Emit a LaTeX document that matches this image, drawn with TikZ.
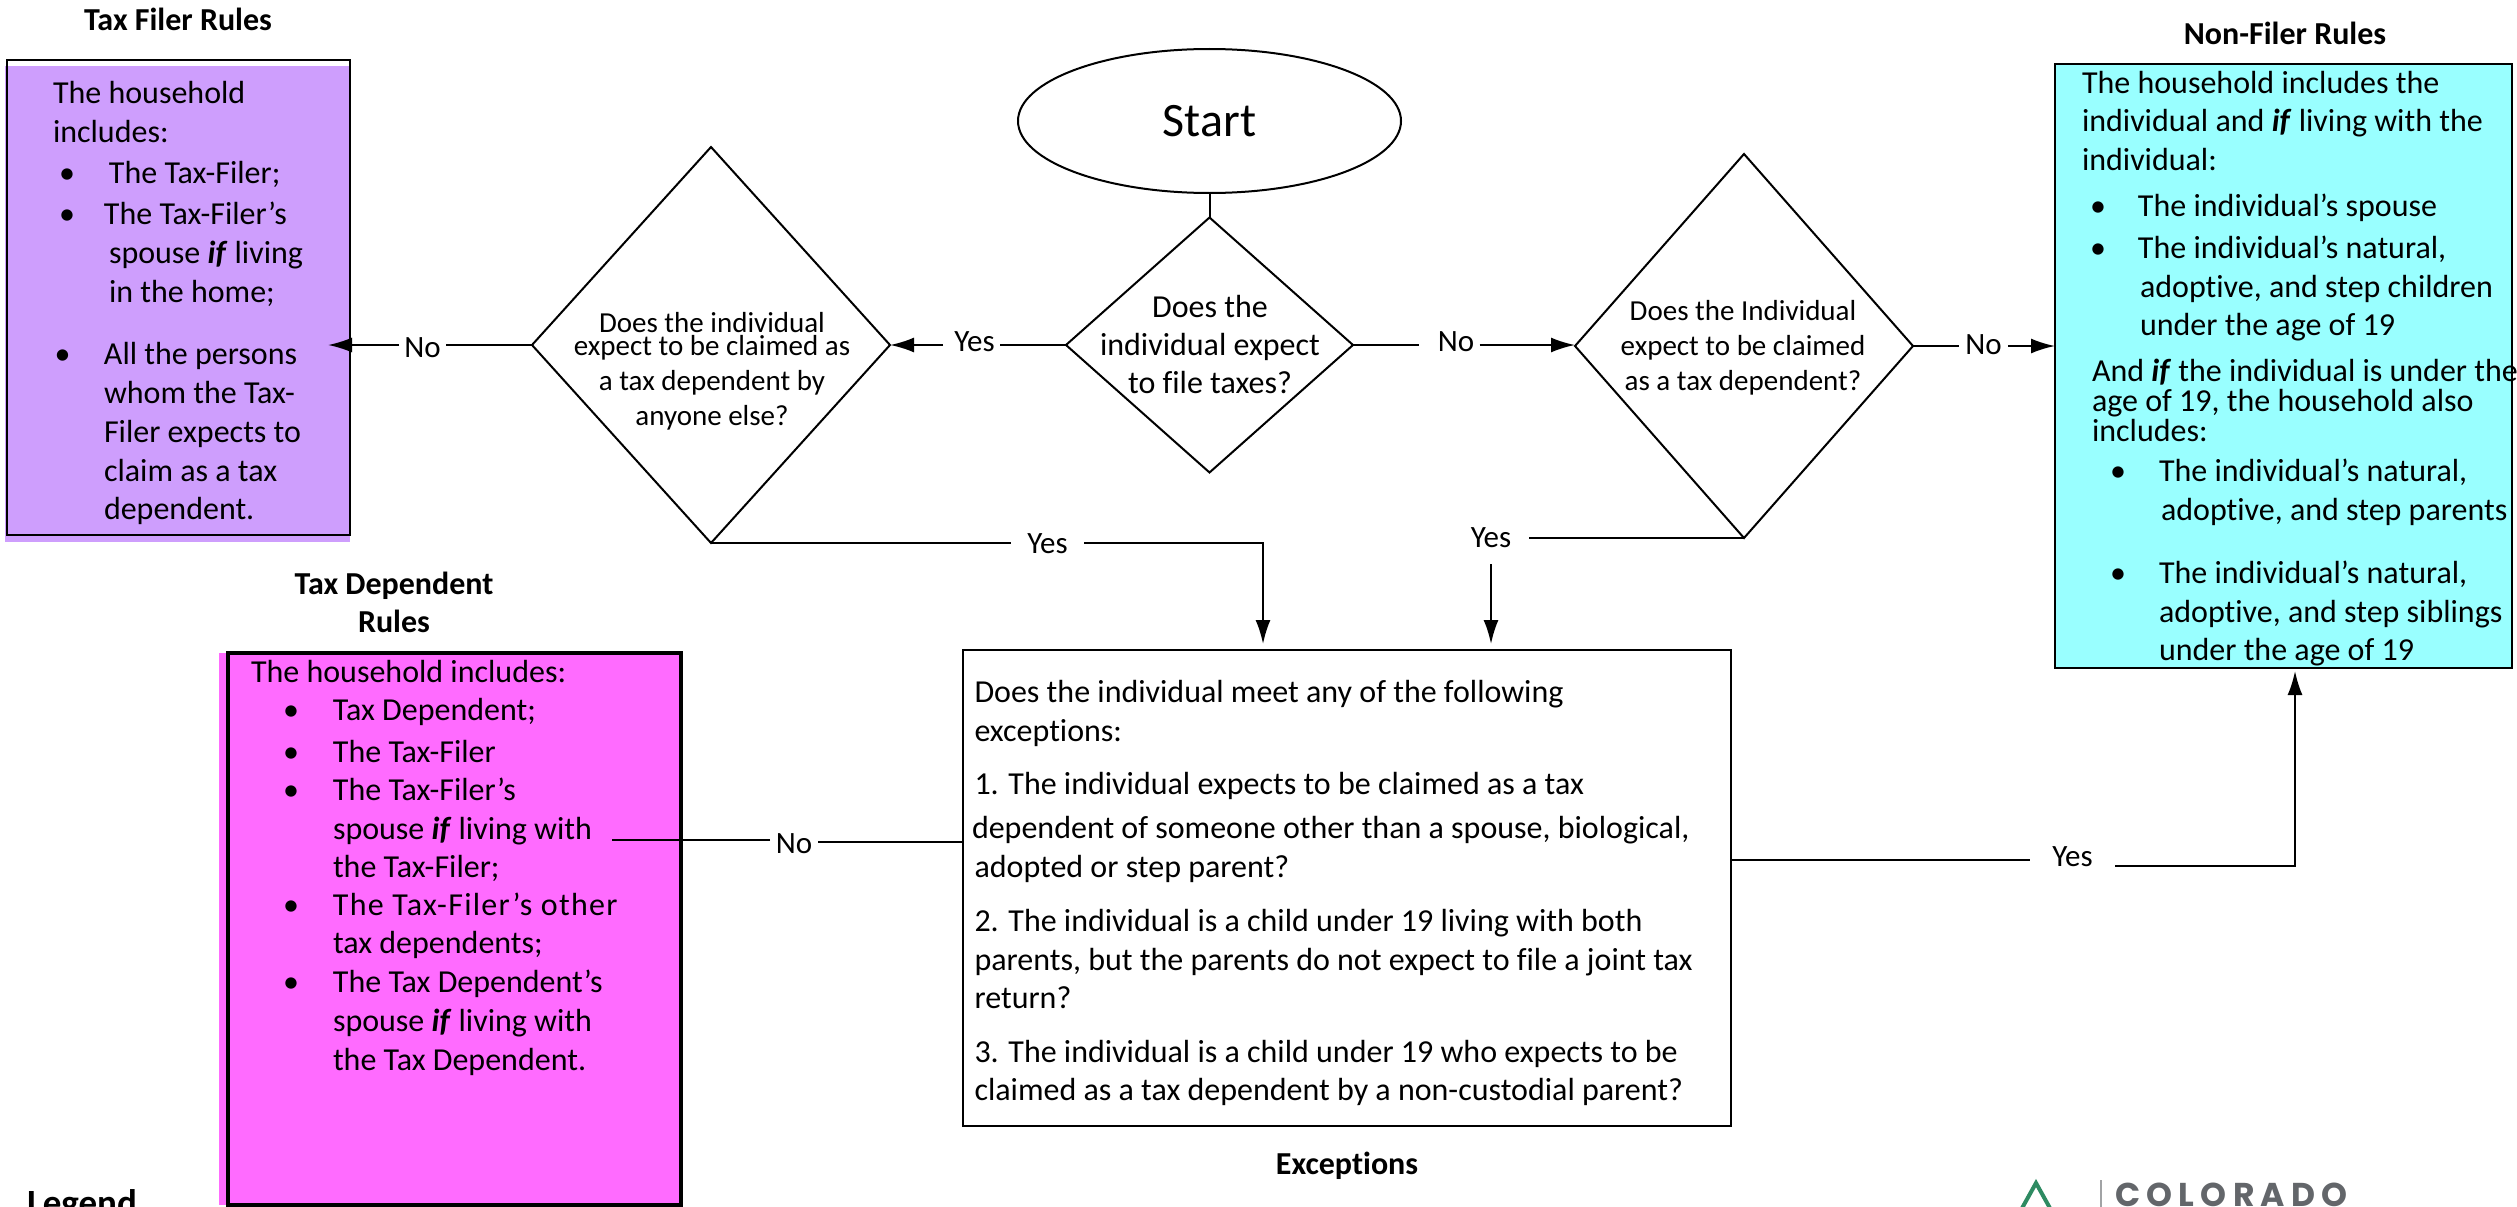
\documentclass[tikz,border=0pt]{standalone}
\usepackage{fontspec}
\setmainfont[RawFeature=-liga]{Carlito}
\newfontfamily\logofont[LetterSpace=19]{Poppins}
\usetikzlibrary{shapes.geometric,arrows.meta}
\newcommand{\fsz}[2]{\fontsize{#1}{#2}\selectfont}
\newcommand{\bi}[1]{\makebox[#1pt][l]{\textbullet}}
\newcommand{\ind}[1]{\hspace*{#1pt}}
\definecolor{tfcol}{HTML}{CE9EFD}
\definecolor{tdcol}{HTML}{FF6BFF}
\definecolor{nfcol}{HTML}{99FFFF}
\definecolor{logogray}{HTML}{63666A}
\definecolor{logogreen}{HTML}{2E8B62}
\tikzset{
  shp/.style={draw=black,line width=2pt,inner sep=0pt,outer sep=0pt},
  dia/.style={shp,diamond},
  flowbox/.style={shp,rectangle,line width=2.6pt},
  txt/.style={anchor=west,yshift=-5.5pt,inner sep=0pt,outer sep=0pt,align=left,
    execute at begin node=\strut,execute at end node=\strut},
  ctr/.style={anchor=center,yshift=-5.5pt,inner sep=0pt,outer sep=0pt,align=center,
    execute at begin node=\strut,execute at end node=\strut},
  ttl/.style={ctr,font=\fsz{32}{38}\bfseries},
  lab/.style={inner sep=0pt,outer sep=0pt,font=\fsz{31}{36}},
  conn/.style={line width=2pt,draw=black},
  arr/.style={conn,-{Latex[length=24pt,width=15pt]}}
}
\begin{document}
\begin{tikzpicture}[x=1pt,y=-1pt]
\clip (0,0) rectangle (2517,1207);
\useasboundingbox (0,0) rectangle (2517,1207);
% colour fills, slightly offset from the outlines
\fill[tfcol] (5,66) rectangle (350,542);
\fill[tdcol] (219,653) rectangle (681,1205);
\fill[nfcol] (2055,64) rectangle (2512,668);
% outlines
\node[flowbox,minimum width=343pt,minimum height=475pt] (tf) at (178.5,297.5) {};
\node[flowbox,line width=4pt,minimum width=453pt,minimum height=552pt] (td) at (454.5,929) {};
\node[flowbox,minimum width=457pt,minimum height=604pt] (nf) at (2283.5,366) {};
\node[flowbox,minimum width=768pt,minimum height=476pt] (exc) at (1347,888) {};
\node[shp,ellipse,minimum width=383pt,minimum height=144pt,font=\fsz{48}{52}] (start) at (1209.5,121) {\raisebox{-1pt}{Start}};
\node[dia,minimum width=287pt,minimum height=255pt] (d1) at (1209.5,345) {};
\node[dia,minimum width=358pt,minimum height=396pt] (d2) at (711,345) {};
\node[dia,minimum width=338pt,minimum height=384pt] (d3) at (1744,346) {};
% titles
\node[ttl] (ttf) at (178,17.5) {Tax Filer Rules};
\node[ttl] (tnf) at (2285,31.5) {Non-Filer Rules};
\node[ttl] (ttd) at (394,602) {Tax Dependent\\Rules};
\node[ttl] (tex) at (1347,1161) {Exceptions};
\node[anchor=base west,inner sep=0pt,font=\fsz{37}{40}\bfseries] (leg) at (27,1215) {Legend};
% diamond text
\node[ctr,font=\fsz{32}{38}] (d1t) at (1210,345) {Does the\\individual expect\\to file taxes?};
\node[ctr,font=\fsz{29}{35}] (d2t) at (712,369) {Does the individual\\[-12pt]expect to be claimed as\\a tax dependent by\\anyone else?};
\node[ctr,font=\fsz{29}{35}] (d3t) at (1743,345) {Does the Individual\\expect to be claimed\\as a tax dependent?};
% tax filer text
\node[txt,font=\fsz{32}{39}] (tf1) at (53,112.5) {The household\\includes:};
\node[txt,font=\fsz{32}{39}] (tf2) at (59,170) {\bi{50}The Tax-Filer;};
\node[txt,font=\fsz{32}{39}] (tf3) at (59,252.5) {\bi{45}The Tax-Filer’s\\\ind{50}spouse \textbf{\textit{if}} living\\\ind{50}in the home;};
\node[txt,font=\fsz{32}{38.75}] (tf4) at (54.5,431.5) {\bi{49.5}All the persons\\\ind{49.5}whom the Tax-\\\ind{49.5}Filer expects to\\\ind{49.5}claim as a tax\\\ind{49.5}dependent.};
% tax dependent text
\node[txt,font=\fsz{32}{38.6}] (td1) at (251,669) {The household includes:};
\node[txt,font=\fsz{32}{38.6}] (td2) at (283,707) {\bi{50}Tax Dependent;};
\node[txt,font=\fsz{32}{38.6}] (td3) at (283,749) {\bi{50}The Tax-Filer};
\node[txt,font=\fsz{32}{38.6}] (td4) at (283,828) {\bi{50}The Tax-Filer’s\\\ind{50}spouse \textbf{\textit{if}} living with\\\ind{50}the Tax-Filer;};
\node[txt,font=\fsz{32}{38.6}] (td5) at (283,923.5) {\bi{50}{\addfontfeature{LetterSpace=4}The Tax-Filer’s other}\\\ind{50}tax dependents;};
\node[txt,font=\fsz{32}{38.6}] (td6) at (283,1020.5) {\bi{50}The Tax Dependent’s\\\ind{50}spouse \textbf{\textit{if}} living with\\\ind{50}the Tax Dependent.};
% non-filer text
\node[txt,font=\fsz{32}{38.4}] (nf1) at (2082,121) {The household includes the\\individual and \textbf{\textit{if}} living with the\\individual:};
\node[txt,font=\fsz{32}{38.4}] (nf2) at (2090,203) {\bi{48}The individual’s spouse};
\node[txt,font=\fsz{32}{38.4}] (nf3) at (2090,286) {\bi{48}The individual’s natural,\\\ind{50}adoptive, and step children\\\ind{50}under the age of 19};
\node[txt,font=\fsz{32}{30}] (nf4) at (2092,399) {And \textbf{\textit{if}} the individual is under the\\age of 19, the household also\\includes:};
\node[txt,font=\fsz{32}{38.4}] (nf5) at (2110,490) {\bi{49}The individual’s natural,\\\ind{51}adoptive, and step parents};
\node[txt,font=\fsz{32}{38.4}] (nf6) at (2110,611) {\bi{49}The individual’s natural,\\\ind{49}adoptive, and step siblings\\\ind{49}under the age of 19};
% exceptions text
\node[txt,font=\fsz{32}{38.5}] (ex1) at (974.5,711) {Does the individual meet any of the following\\exceptions:};
\node[txt,font=\fsz{32}{38.5}] (ex2) at (974.5,825) {1. The individual expects to be claimed as a tax\\[5.5pt]\ind{-2.5}dependent of someone other than a spouse, biological,\\adopted or step parent?};
\node[txt,font=\fsz{32}{38.5}] (ex3) at (974.5,959.5) {2. The individual is a child under 19 living with both\\parents, but the parents do not expect to file a joint tax\\return?};
\node[txt,font=\fsz{32}{38.5}] (ex4) at (974.5,1070.5) {3. The individual is a child under 19 who expects to be\\claimed as a tax dependent by a non-custodial parent?};
% connector labels: each one's width is the gap it leaves in its line
\node[lab,minimum width=57pt] (yes1) at (971.5,342) {\hspace*{6pt}Yes};
\node[lab,minimum width=61pt] (no1) at (1449,342) {\hspace*{14pt}No};
\node[lab,minimum width=49pt] (no3) at (1983.5,345) {No};
\node[lab,minimum width=47pt] (no2) at (422.5,348) {No};
\node[lab,minimum width=73pt] (yes2) at (1047.5,544) {Yes};
\node[lab,minimum width=76pt,minimum height=52pt] (yes3) at (1491,538) {Yes};
\node[lab,minimum width=48pt] (no4) at (794,844) {No};
\node[lab,minimum width=85pt] (yes4) at (2072.5,857) {Yes};
% free connector ends
\coordinate (tfin) at (328,345);
\coordinate (tdin) at (612,840);
\coordinate (excl) at (963,842);
\coordinate (excr) at (1731,860);
\coordinate (excina) at (1263,644);
\coordinate (excinb) at (1491,644);
\coordinate (nfin) at (2295,671);
\coordinate (yesr) at (2115,866);
% connectors
\draw[conn] (start.south) -- (d1.north);
\draw[conn] (d1.west) -- (yes1.east |- d1.west);
\draw[arr] (yes1.west |- d1.west) -- (d2.east);
\draw[conn] (d1.east) -- (no1.west |- d1.east);
\draw[arr] (no1.east |- d1.east) -- (d3.west |- d1.east);
\draw[conn] (d3.east) -- (no3.west |- d3.east);
\draw[arr] (no3.east |- d3.east) -- (nf.west |- d3.east);
\draw[conn] (d2.west) -- (no2.east |- d2.west);
\draw[arr] (no2.west |- d2.west) -- (tfin);
\draw[conn] (d2.south) -- (yes2.west |- d2.south);
\draw[arr] (yes2.east |- d2.south) -| (excina);
\draw[conn] (d3.south) -- (yes3.east |- d3.south);
\draw[arr] (yes3.south) -- (excinb);
\draw[conn] (excl) -- (no4.east |- excl);
\draw[conn] (no4.west |- tdin) -- (tdin);
\draw[conn] (excr) -- (yes4.west |- excr);
\draw[arr] (yesr) -| (nfin);
% logo
\draw[logogreen,line width=4pt,line join=miter] (2021,1210) -- (2036,1183) -- (2051,1210);
\draw[logogray!60,line width=1.5pt] (2101,1180) -- (2101,1207);
\node[anchor=base west,inner sep=0pt,text=logogray,font=\logofont\fsz{33}{36}\bfseries] (logo) at (2115,1206) {COLORADO};
\end{tikzpicture}
\end{document}
